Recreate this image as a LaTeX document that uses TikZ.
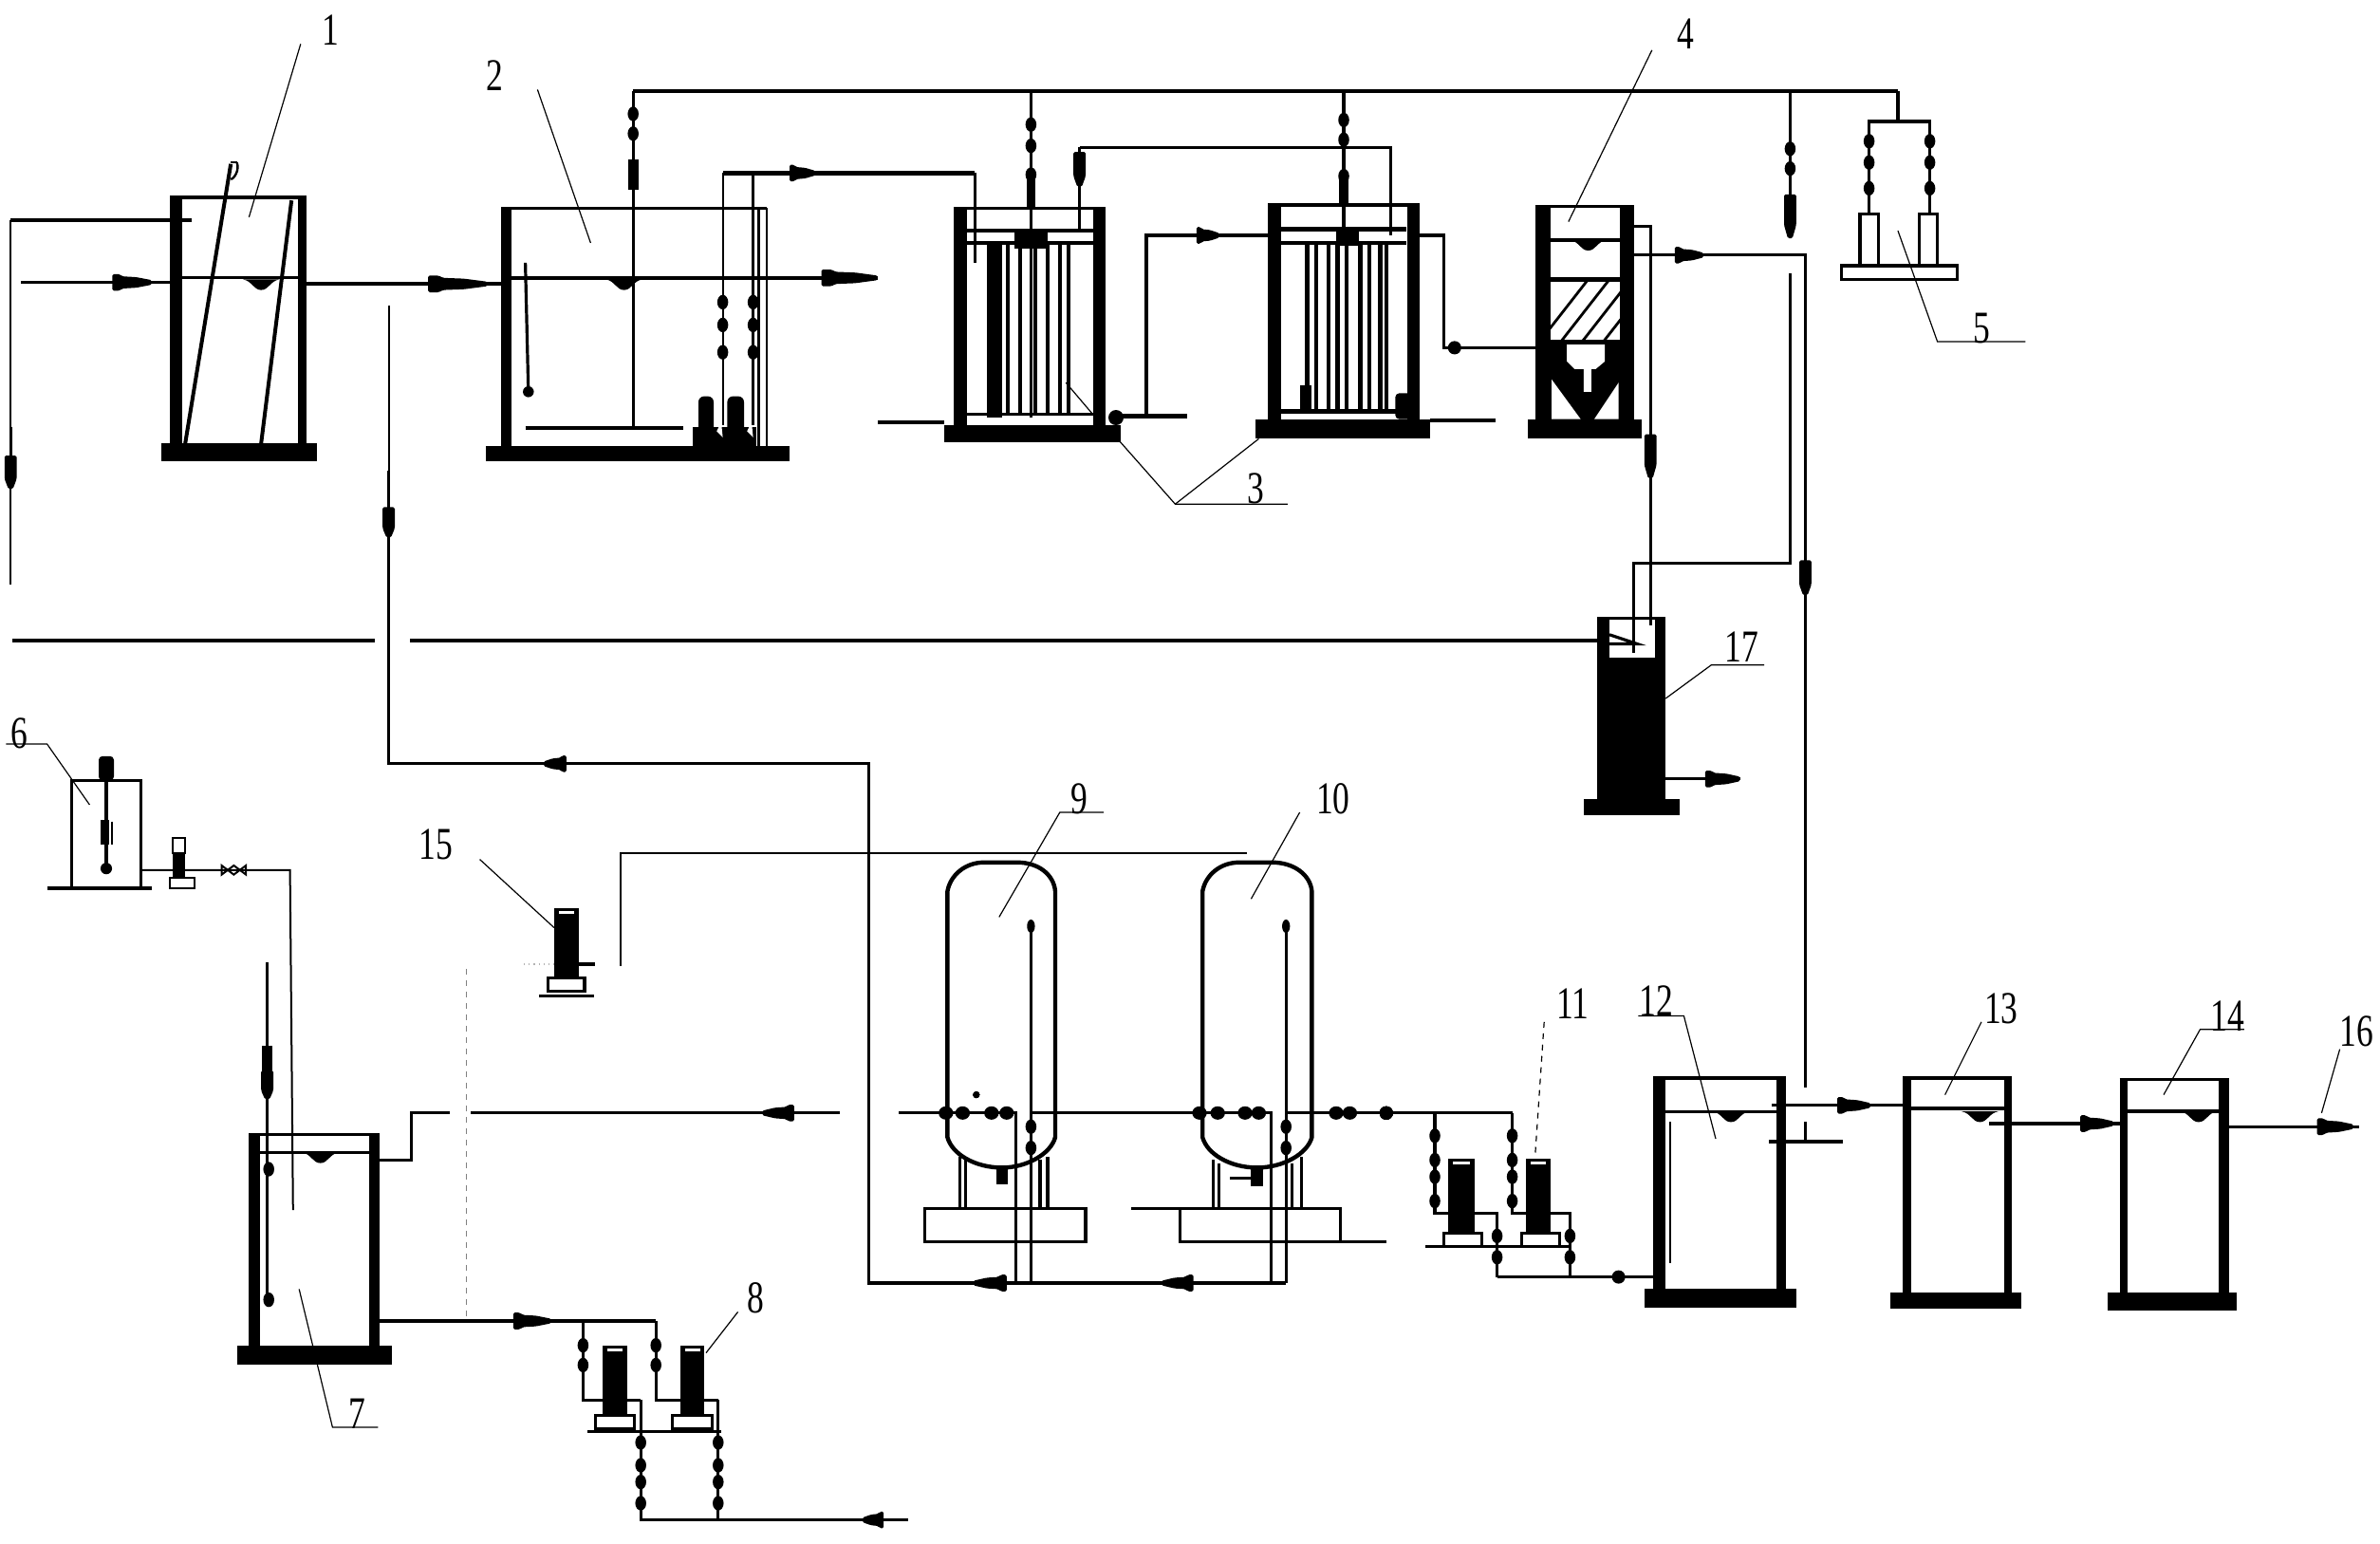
\documentclass[tikz,border=0pt]{standalone}
\usepackage{fontspec}
\setmainfont[FakeStretch=0.74]{Liberation Serif}
\newcommand{\tankbox}[9]{%x1,x2,top,wl,wr,bx1,bx2,by1,by2
 \fill (#1,#3) rectangle (#1+#4,#8);
 \fill (#2-#5,#3) rectangle (#2,#8);
 \draw[pipeB] (#1,#3+1) -- (#2,#3+1);
 \fill (#6,#8) rectangle (#7,#9);}
\newcommand{\wmark}[2]{\fill (#1-12,#2) .. controls (#1-6,#2+1) and (#1-5,#2+7) .. (#1,#2+7) .. controls (#1+5,#2+7) and (#1+6,#2+1) .. (#1+12,#2) -- cycle;}
\newcommand{\hblob}[3]{\fill[rounded corners=0.8pt] (#1,#3-5.5) -- ({#1+0.18*(#2-#1)},#3-5.5) -- ({#1+0.25*(#2-#1)},#3-4) -- ({#1+0.6*(#2-#1)},#3-3.5) -- (#2,#3-1.5) -- (#2,#3+1.5) -- ({#1+0.6*(#2-#1)},#3+3.5) -- ({#1+0.25*(#2-#1)},#3+4) -- ({#1+0.18*(#2-#1)},#3+5.5) -- (#1,#3+5.5) -- cycle;}
\newcommand{\vblob}[3]{\fill[rounded corners=0.8pt] (#1-4,#2) -- (#1+4,#2) -- (#1+4,{#2+0.7*(#3-#2)}) -- (#1+1.5,#3) -- (#1-1.5,#3) -- (#1-4,{#2+0.7*(#3-#2)}) -- cycle;}
\newcommand{\vbead}[2]{\fill (#1,#2) ellipse (3.6 and 4.8);}
\newcommand{\hbead}[2]{\fill (#1,#2) ellipse (4.8 and 4.4);}
\newcommand{\smallpump}[6]{%x1,x2,top,bot,boxx1,boxx2
 \fill (#1,#3) rectangle (#2,#4);
 \fill[white] (#1+3,#3+2) rectangle (#2-3,#3+4);
 \draw[pipeB] (#5,#4) rectangle (#6,#4+9);}
\tikzset{
 pipeA/.style={line width=2.2pt},
 pipeB/.style={line width=1.6pt},
 pipeC/.style={line width=1pt},
 leader/.style={line width=0.6pt},
 tag/.style={font=\fontsize{24}{24}\selectfont,inner sep=0pt}
}
\begin{document}
\begin{tikzpicture}[x=0.8pt,y=-0.8pt]
\useasboundingbox (0,0) rectangle (1567.5,1016.25);
%---- tank 1
\tankbox{112}{202}{129}{8}{6}{106}{209}{292}{304}
\draw[pipeB] (118,183) -- (197,183);
\wmark{172}{184}
\draw[pipeB] (14,186) -- (112,186);
\draw[pipeA] (202,187) -- (330,187);
\hblob{74}{100}{186}
\hblob{282}{321}{187}
\draw[line width=2pt] (152,108) -- (122,292);
\draw[line width=2pt] (192,132) -- (172,292);
\draw[line width=1.2pt] (156,107) .. controls (158,112) and (154,118) .. (152,118);
\draw[line width=1.2pt] (152,107) -- (156,107);
\draw[line width=2pt] (7,145) -- (126,145);
\draw[pipeC] (7,145) -- (7,385);
\draw[pipeB] (7,281) -- (7,300);
\vblob{7}{300}{322}
%---- tank 2
\fill (330,136) rectangle (337,294);
\draw[pipeB] (330,137) -- (505,137);
\draw[pipeB] (499.5,137) -- (499.5,294);
\draw[pipeC] (505,137) -- (505,294);
\fill (320,294) rectangle (520,304);
\draw[pipeA] (337,183) -- (578,183);
\wmark{411}{184}
\hblob{541}{578}{183}
\draw[pipeB] (346,173) -- (348,258);
\fill (348,258) circle (3.6);
\draw[pipeB] (417,60) -- (417,282);
\draw[line width=2pt] (346,282) -- (450,282);
\draw[pipeA] (417,60) -- (1250,60);
\vbead{417}{75}\vbead{417}{88}
\fill (413.5,105) rectangle (420.5,125);
% pumps in tank 2
\fill[rounded corners=3pt] (460,261) rectangle (470,294);
\fill[rounded corners=3pt] (479,261) rectangle (490,294);
\fill (456,281) rectangle (498,294);
\fill[white] (472,284) -- (475,278) -- (476,288) -- cycle;
\fill[white] (492,284) -- (495,278) -- (496,288) -- cycle;
\draw[pipeC] (476,114) -- (476,280);
\draw[pipeB] (496,114) -- (496,280);
\vbead{476}{199}\vbead{476}{214}\vbead{476}{232}
\vbead{496}{199}\vbead{496}{214}\vbead{496}{232}
\draw[pipeA] (476,114) -- (642,114);
\hblob{520}{537}{114}
\draw[pipeB] (642,114) -- (642,173);
%---- MBR 1
\tankbox{628}{728}{136}{9}{8}{622}{738}{280}{291}
\draw[pipeA] (636,152) -- (720,152);
\draw[pipeA] (636,160) -- (720,160);
\fill (650,160) rectangle (660,275);
\foreach \xx in {664,672,682,690,698,704} \draw[line width=2pt] (\xx,160) -- (\xx,273);
\fill (668,153) rectangle (690,164);
\draw[pipeB] (636,273) -- (720,273);
\draw[pipeB] (679,60) -- (679,275);
\vbead{679}{82}\vbead{679}{96}\vbead{679}{115}
\fill (676,118) rectangle (682,136);
\draw[leader] (702,252) -- (719,272);
\draw[pipeB] (711,97) -- (711,153);
\vblob{711}{100}{123}
\draw[pipeB] (711,97) -- (916,97) -- (916,155);
\draw[pipeA] (578,278) -- (622,278);
\draw[pipeA] (738,274) -- (782,274);
\fill (735,275) circle (5);
\draw[pipeB] (755,274) -- (755,155) -- (836,155);
\hblob{788}{803}{155}
%---- MBR 2
\tankbox{835}{935}{134}{9}{8}{827}{942}{276}{289}
\draw[pipeA] (844,151) -- (926,151);
\draw[pipeA] (844,160) -- (926,160);
\foreach \xx in {861,867,875,881,887,896,902,909,913} \draw[line width=2.2pt] (\xx,160) -- (\xx,270);
\fill (880,152) rectangle (895,162);
\draw[pipeA] (844,271) -- (926,271);
\fill (856,254) rectangle (864,272);
\fill[rounded corners=2pt] (919,259) rectangle (932,276);
\draw[pipeB] (885,60) -- (885,155);
\vbead{885}{79}\vbead{885}{92}\vbead{885}{116}
\fill (882,118) rectangle (888,134);
\draw[pipeB] (935,155) -- (951,155) -- (951,229) -- (1012,229);
\fill (958,229) circle (4.4);
\draw[pipeA] (942,277) -- (985,277);
%---- tank 4
\fill (1011,135) rectangle (1021,276);
\fill (1067,135) rectangle (1076,276);
\draw[pipeB] (1011,136) -- (1076,136);
\fill (1006,276) rectangle (1081,289);
\draw[pipeA] (1021,158) -- (1067,158);
\wmark{1046}{158}
\draw[pipeA] (1021,184) -- (1067,184);
\draw[pipeA] (1021,225) -- (1067,225);
\foreach \s in {0,14,28,42,56} {
 \begin{scope}
 \clip (1021,184) rectangle (1067,225);
 \draw[line width=1.4pt] (1014+\s,225) -- (1014+\s+32,184);
 \end{scope}}
\fill (1021,226) rectangle (1067,276);
\fill[white] (1032,227) -- (1057,227) -- (1057,238) -- (1051,243) -- (1048,243) -- (1048,258) -- (1043,258) -- (1043,243) -- (1037,243) -- (1032,238) -- cycle;
\fill[white] (1022,250) -- (1041,276) -- (1022,276) -- cycle;
\fill[white] (1066,252) -- (1066,276) -- (1050,276) -- cycle;
\draw[pipeB] (1076,149) -- (1087,149) -- (1087,412);
\vblob{1087}{286}{315}
\draw[pipeB] (1076,168) -- (1189,168) -- (1189,716);
\hblob{1103}{1122}{168}
\vblob{1189}{369}{392}
\draw[pipeB] (1179,60) -- (1179,156);
\vbead{1179}{98}\vbead{1179}{111}
\vblob{1179}{128}{157}
\draw[pipeB] (1179,180) -- (1179,371) -- (1076,371) -- (1076,430);
%---- unit 5
\draw[pipeB] (1250,60) -- (1250,80);
\draw[pipeB] (1231,93) -- (1231,80) -- (1271,80) -- (1271,93);
\draw[pipeB] (1231,93) -- (1231,141);
\draw[pipeB] (1271,93) -- (1271,141);
\foreach \yy in {93,107,124} {\vbead{1231}{\yy}\vbead{1271}{\yy}}
\draw[pipeB,fill=white] (1225,141) rectangle (1237,175);
\draw[pipeB,fill=white] (1264,141) rectangle (1276,175);
\draw[pipeB,fill=white] (1213,175) rectangle (1289,184);
%---- tank 17
\draw[line width=2pt] (270,422) -- (1052,422);
\draw[line width=2pt] (8,422) -- (247,422);
\fill (1052,433) rectangle (1097,526);
\fill (1052,406) rectangle (1060,526);
\fill (1090,406) rectangle (1097,526);
\draw[pipeB] (1052,407) -- (1097,407);
\draw[pipeB] (1060,418) -- (1078,424) -- (1060,424);
\fill (1043,526) rectangle (1106,537);
\draw[pipeB] (1097,513) -- (1146,513);
\hblob{1123}{1146}{513}
%---- upper return line
\draw[pipeC] (256,201) -- (256,310);
\draw[pipeB] (256,310) -- (256,340);
\vblob{256}{334}{354}
\draw[pipeB] (256,354) -- (256,503) -- (572,503) -- (572,845) -- (847,845);
\hblob{373}{358}{503}
\hblob{663}{641}{845}
\hblob{786}{765}{845}
%---- unit 6
\draw[pipeB] (47,585) -- (47,514) -- (93,514) -- (93,585);
\draw[pipeA] (31,585) -- (100,585);
\draw[pipeB] (70,500) -- (70,572);
\fill[rounded corners=2pt] (65,498) rectangle (75,514);
\fill (66,540) rectangle (72,556);
\draw[pipeC] (74,541) -- (74,556);
\fill (70,572) circle (3.8);
\draw[pipeC] (93,573) -- (191,573) -- (193,797);
\fill (114,560) rectangle (122,578);
\draw[pipeC,fill=white] (114,552) rectangle (122,562);
\draw[pipeC] (112,578) rectangle (128,585);
\draw[pipeC] (146,570) -- (154,576) -- (162,570) -- (162,576) -- (154,570) -- (146,576) -- cycle;
%---- tank 7
\tankbox{164}{250}{746}{7}{7}{156}{258}{886}{899}
\draw[pipeB] (171,759) -- (243,759);
\wmark{211}{759}
\draw[pipeB] (176,634) -- (176,857);
\fill (172.5,689) rectangle (179.5,710);
\vblob{176}{705}{724}
\vbead{177}{770}
\vbead{177}{856}
\draw[pipeB] (250,764) -- (271,764) -- (271,733) -- (296,733);
\draw[pipeB] (310,733) -- (553,733);
\hblob{523}{502}{733}
\draw[leader,gray,dashed] (307,638) -- (307,869);
\draw[pipeA] (250,870) -- (432,870);
\hblob{338}{363}{870}
\draw[pipeB] (384,870) -- (384,922) -- (422,922);
\draw[pipeB] (432,870) -- (432,922) -- (473,922);
\vbead{384}{886}\vbead{384}{899}\vbead{432}{886}\vbead{432}{899}
\smallpump{397}{413}{886}{932}{392}{418}
\smallpump{448}{464}{886}{932}{443}{469}
\draw[pipeB] (387,943) -- (475,943);
\draw[pipeB] (422,922) -- (422,1001) -- (598,1001);
\draw[pipeB] (473,922) -- (473,1001);
\foreach \yy in {950,965,976,990} {\vbead{422}{\yy}\vbead{473}{\yy}}
\hblob{582}{568}{1001}
%---- pump 15
\smallpump{365}{381}{598}{644}{361}{385}
\draw[pipeB] (355,656) -- (391,656);
\draw[pipeB] (381,635) -- (392,635);
\draw[leader,gray!60,dotted] (345,635) -- (365,635);
\draw[pipeC] (409,636) -- (409,562) -- (821,562);
%---- tank 9
\draw[pipeB] (592,733) -- (669,733) -- (669,845);
\draw[pipeB] (679,733) -- (791,733);
\draw[pipeB] (679,612) -- (679,845);
\draw[pipeA] (624,587) .. controls (626,576) and (636,568) .. (648,568) -- (670,568) .. controls (684,568) and (694,576) .. (695,587) -- (695,749) .. controls (692,760) and (676,769) .. (660,769) .. controls (642,769) and (627,760) .. (624,749) -- cycle;
\draw[pipeB] (632,762) -- (632,796);
\draw[pipeB] (636,764) -- (636,796);
\draw[pipeB] (685,764) -- (685,796);
\draw[pipeB] (690,762) -- (690,796);
\fill (656,769) rectangle (664,780);
\draw[pipeB] (609,796) rectangle (715,818);
\foreach \xx in {623,634,653,663} \hbead{\xx}{733}
\fill (643,721) circle (2.2);
\fill (679,610) ellipse (2.6 and 4.4);
\vbead{679}{742}\vbead{679}{756}
%---- tank 10
\draw[pipeB] (791,733) -- (837,733) -- (837,845);
\draw[pipeB] (847,733) -- (996,733);
\draw[pipeB] (847,612) -- (847,845);
\draw[pipeA] (792,587) .. controls (794,576) and (804,568) .. (816,568) -- (838,568) .. controls (852,568) and (863,576) .. (864,587) -- (864,749) .. controls (861,760) and (845,769) .. (828,769) .. controls (810,769) and (795,760) .. (792,749) -- cycle;
\draw[pipeB] (799,764) -- (799,796);
\draw[pipeB] (803,766) -- (803,796);
\draw[pipeB] (851,766) -- (851,796);
\draw[pipeB] (857,762) -- (857,796);
\fill (824,769) rectangle (832,781);
\draw[pipeB] (810,776) -- (827,776);
\draw[pipeB] (777,796) rectangle (883,818);
\draw[pipeB] (745,796) -- (777,796);
\draw[pipeB] (883,818) -- (913,818);
\foreach \xx in {790,802,820,829,880,889} \hbead{\xx}{733}
\fill (913,733) circle (4.4);
\fill (847,610) ellipse (2.6 and 4.4);
\vbead{847}{742}\vbead{847}{756}
%---- pumps 11
\draw[pipeB] (945,733) -- (945,799) -- (986,799) -- (986,841);
\draw[pipeB] (996,733) -- (996,799) -- (1034,799) -- (1034,841);
\foreach \yy in {748,764,775,791} {\vbead{945}{\yy}\vbead{996}{\yy}}
\smallpump{954}{971}{763}{812}{951}{976}
\smallpump{1005}{1021}{763}{812}{1002}{1027}
\draw[line width=1.8pt] (939,821) -- (1034,821);
\vbead{986}{814}\vbead{986}{828}\vbead{1034}{814}\vbead{1034}{828}
\draw[pipeB] (986,841) -- (1090,841);
\fill (1066,841) circle (4.4);
%---- tank 12
\tankbox{1089}{1176}{709}{8}{6}{1083}{1183}{849}{861}
\draw[pipeB] (1097,732) -- (1170,732);
\wmark{1140}{732}
\draw[line width=1.4pt] (1100,739) -- (1100,832);
\draw[pipeB] (1167,728) -- (1253,728);
\hblob{1210}{1232}{728}
\draw[pipeB] (1189,739) -- (1189,752);
\draw[pipeA] (1165,752) -- (1214,752);
%---- tank 13
\tankbox{1253}{1325}{709}{6}{5}{1245}{1331}{851}{862}
\draw[pipeA] (1259,730) -- (1320,730);
\wmark{1304}{732}
\draw[pipeB] (1310,740) -- (1396,740);
\hblob{1370}{1392}{740}
%---- tank 14
\tankbox{1396}{1468}{710}{5}{7}{1388}{1473}{851}{863}
\draw[pipeA] (1401,732) -- (1461,732);
\wmark{1448}{732}
\draw[pipeB] (1468,742) -- (1554,742);
\hblob{1526}{1550}{742}
%---- labels and leaders
\node[tag] (n1) at (218,20) {1};
\draw[leader] (198,29) -- (164,143);
\node[tag] (n2) at (326,50) {2};
\draw[leader] (354,59) -- (389,160);
\node[tag] (n3) at (827,322) {3};
\draw[leader] (848,332) -- (774,332) -- (736,289);
\draw[leader] (774,332) -- (829,289);
\node[tag] (n4) at (1110,22) {4};
\draw[leader] (1088,33) -- (1033,146);
\node[tag] (n5) at (1305,216) {5};
\draw[leader] (1334,225) -- (1276,225) -- (1250,152);
\node[tag] (n6) at (13,483) {6};
\draw[leader] (4,490) -- (31,490) -- (59,530);
\node[tag] (n7) at (235,931) {7};
\draw[leader] (249,940) -- (219,940) -- (197,849);
\node[tag] (n8) at (498,855) {8};
\draw[leader] (486,864) -- (465,891);
\node[tag] (n9) at (711,526) {9};
\draw[leader] (727,535) -- (698,535) -- (658,604);
\node[tag] (n10) at (878,526) {10};
\draw[leader] (856,535) -- (824,592);
\node[tag] (n11) at (1036,661) {11};
\draw[leader,dashed] (1017,673) -- (1011,762);
\node[tag] (n12) at (1091,659) {12};
\draw[leader] (1079,669) -- (1109,669) -- (1130,750);
\node[tag] (n13) at (1318,664) {13};
\draw[leader] (1305,673) -- (1281,721);
\node[tag] (n14) at (1467,669) {14};
\draw[leader] (1478,678) -- (1449,678) -- (1425,721);
\node[tag] (n15) at (287,556) {15};
\draw[leader] (316,566) -- (365,611);
\node[tag] (n16) at (1552,679) {16};
\draw[leader] (1541,691) -- (1529,733);
\node[tag] (n17) at (1147,426) {17};
\draw[leader] (1162,438) -- (1127,438) -- (1097,460);
\end{tikzpicture}
\end{document}
